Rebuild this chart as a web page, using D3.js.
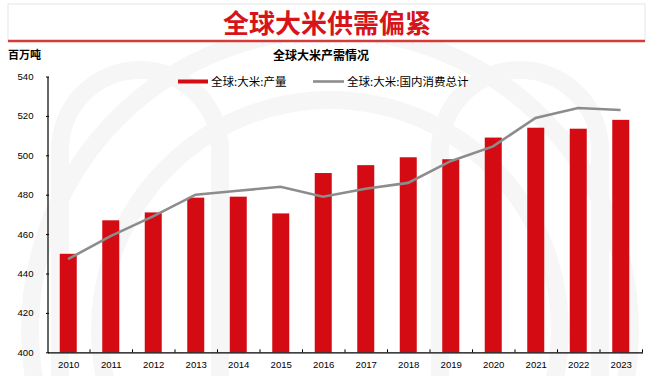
<!DOCTYPE html>
<html>
<head>
<meta charset="utf-8">
<script src="https://cdn.jsdelivr.net/npm/d3@7"></script>
<style>
  body { margin: 0; background: #fff; }
  svg { display: block; font-family: "Liberation Sans", Arial, "Noto Sans CJK SC", sans-serif; }
</style>
</head>
<body>
<svg id="chart" width="663" height="376"></svg>
<script>
'use strict';

var years = ['2010', '2011', '2012', '2013', '2014', '2015', '2016', '2017', '2018', '2019', '2020', '2021', '2022', '2023'];
var production = [450, 467, 471, 478.5, 479, 470.5, 491, 495, 499, 498, 509, 514, 513.5, 518];
var consumption = [447.3, 459, 469, 480, 482, 484, 479, 483, 486, 497, 504.5, 519, 524, 523];
var yTicks = [400, 420, 440, 460, 480, 500, 520, 540];

(function () {
  var svg = d3.select('#chart');
  var cjk = '"Noto Sans CJK SC", sans-serif';

  // faint watermark arcs in the background
  var wm = svg.append('g').attr('fill', 'none').attr('stroke', '#f6f6f6').attr('stroke-width', 18);
  wm.append('circle').attr('cx', 330).attr('cy', 330).attr('r', 300);
  wm.append('circle').attr('cx', 330).attr('cy', 330).attr('r', 230);
  wm.append('path').attr('d', 'M60,376 L60,150 A80,80 0 0 1 220,150 L220,376');
  wm.append('path').attr('d', 'M440,376 L440,150 A80,80 0 0 1 600,150 L600,376');

  // title box
  svg.append('rect').attr('x', 8).attr('y', 4).attr('width', 637).attr('height', 37)
    .attr('fill', '#fff').attr('stroke', '#e6e6e6').attr('stroke-width', 1);
  svg.append('line').attr('x1', 8).attr('x2', 645).attr('y1', 41).attr('y2', 41)
    .attr('stroke', '#d53a3a').attr('stroke-width', 2.5);
  svg.append('text').attr('x', 327).attr('y', 32.5).attr('text-anchor', 'middle')
    .style('font-family', cjk).style('font-size', '26px').style('font-weight', 'bold')
    .attr('fill', '#d7141a').text('全球大米供需偏紧');

  svg.append('text').attr('x', 8).attr('y', 59)
    .style('font-family', cjk).style('font-size', '11px').style('font-weight', 'bold')
    .attr('fill', '#000').text('百万吨');
  svg.append('text').attr('x', 321).attr('y', 60).attr('text-anchor', 'middle')
    .style('font-family', cjk).style('font-size', '12px').style('font-weight', 'bold')
    .attr('fill', '#000').text('全球大米产需情况');

  var margin = { left: 47.5, right: 642.5, top: 76.5, bottom: 352.3 };

  var xc = d3.scaleBand().domain(years).range([margin.left, margin.right]);
  var y = d3.scaleLinear().domain([400, 540]).range([margin.bottom, margin.top]);

  // bars
  svg.append('g').attr('fill', '#d40b12').selectAll('rect').data(production).enter().append('rect')
    .attr('x', function (d, i) { return xc(years[i]) + xc.bandwidth() / 2 - 9; })
    .attr('width', 17)
    .attr('y', function (d) { return y(d); })
    .attr('height', function (d) { return y(400) - y(d); });

  // consumption line
  var line = d3.line()
    .x(function (d, i) { return xc(years[i]) + xc.bandwidth() / 2 - 0.7; })
    .y(function (d) { return y(d); });
  svg.append('path').datum(consumption).attr('d', line)
    .attr('fill', 'none').attr('stroke', '#8c8c8c').attr('stroke-width', 2.6);

  // axes
  var yAxis = d3.axisLeft(y).tickValues(yTicks).tickSizeInner(-3).tickSizeOuter(0).tickPadding(14);
  var gy = svg.append('g').attr('transform', 'translate(' + margin.left + ',0)').call(yAxis);
  gy.select('.domain').attr('stroke', '#000').attr('stroke-width', 1.2);
  gy.selectAll('.tick line').attr('stroke', '#000').attr('transform', 'translate(-1.5,0)');
  gy.selectAll('.tick text').style('font-size', '9.6px').attr('fill', '#000');

  var xAxis = d3.axisBottom(xc).tickSize(0).tickPadding(9);
  var gx = svg.append('g').attr('transform', 'translate(0,' + margin.bottom + ')').call(xAxis);
  gx.select('.domain').attr('stroke', '#000').attr('stroke-width', 1.2);
  gx.selectAll('.tick text').style('font-size', '9.6px').attr('fill', '#000');
  gx.selectAll('.sep').data(years).enter().append('line').attr('class', 'sep')
    .attr('x1', function (d) { return xc(d) + xc.bandwidth(); })
    .attr('x2', function (d) { return xc(d) + xc.bandwidth(); })
    .attr('y1', 0).attr('y2', -3).attr('stroke', '#000');

  // legend
  var lg = svg.append('g').style('font-family', cjk).style('font-size', '11.5px');
  lg.append('rect').attr('x', 178).attr('y', 79.5).attr('width', 30).attr('height', 4).attr('fill', '#d40b12');
  lg.append('text').attr('x', 211).attr('y', 85.5).attr('fill', '#000').text('全球:大米:产量');
  lg.append('line').attr('x1', 313).attr('x2', 344).attr('y1', 81.5).attr('y2', 81.5)
    .attr('stroke', '#8c8c8c').attr('stroke-width', 2.6);
  lg.append('text').attr('x', 347).attr('y', 85.5).attr('fill', '#000').text('全球:大米:国内消费总计');
})();
</script>
</body>
</html>
